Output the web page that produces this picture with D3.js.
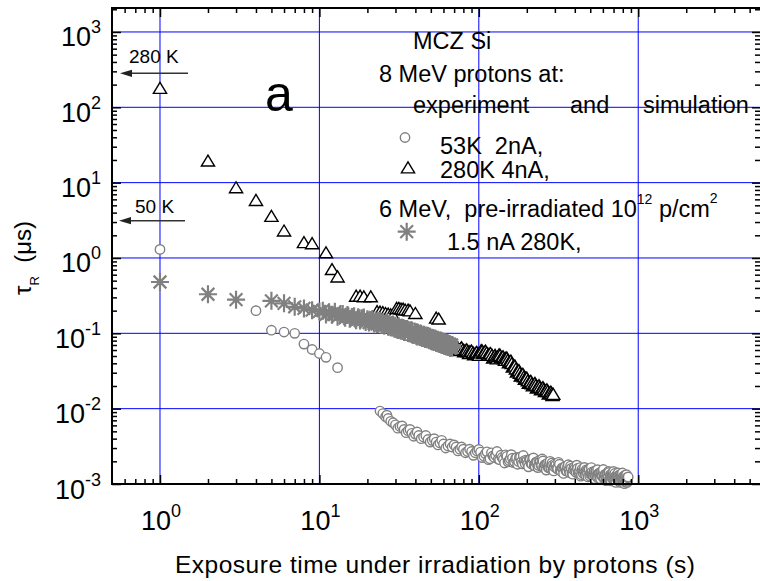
<!DOCTYPE html>
<html><head><meta charset="utf-8">
<script src="https://cdn.jsdelivr.net/npm/d3@7"></script>
<style>
body{margin:0;background:#fff}
text{font-family:"Liberation Sans",Arial,Helvetica,sans-serif;white-space:pre;fill:#000}
</style>
</head><body>
<svg id="chart" width="760" height="581"></svg>
<script>
// ---------------- data (time in s, tau_R in microseconds) ----------------
const circles53K = [
  [1,1.3],[4,0.2],[5,0.11],[6,0.104],[7,0.1],[8,0.072],[9,0.061],[10,0.054],[11,0.048],[13,0.035],
  [24,0.0093],[25,0.0086],[26,0.0078],[26.5,0.0082],[27,0.0074],[28,0.0068],[29,0.0065],[30,0.0061],
  [31,0.0055],[32,0.0058],[33,0.0059],[34,0.0053],[35,0.0048],[36,0.0051],[37,0.0053],[38,0.0047],
  [39,0.0043],[40,0.0046],[41,0.0049],[42,0.0044],[43.5,0.004],[45,0.0042],[46.5,0.0044],[48,0.0039],
  [49.5,0.0036],[51,0.0038],[52.5,0.004],[54,0.0036],[55.5,0.0033],[57,0.0035],[58.5,0.0038],
  [60,0.0034],[62,0.003],[64,0.0032],[66,0.0034],[68,0.0031],[70,0.0033],[72,0.0031],[74,0.00275],
  [76,0.0029],[78,0.0031],[80,0.0029],[82.5,0.0026],[85,0.0027],[87.5,0.0029],[90,0.0027],
  [92.5,0.0024],[95,0.0026],[97.5,0.00275],
  [100,0.00287],[105,0.00224],[110,0.00252],[115,0.0021],[120,0.00259],[125,0.00225],[130,0.0027],
  [135,0.0021],[140,0.00225],[145,0.0019],[150,0.00233],[155,0.00205],[160,0.00245],[165,0.00192],
  [170,0.00217],[175,0.00183],[180,0.00227],[185,0.00198],[190,0.00239],[195,0.00187],[200,0.00201],
  [205,0.00169],[210,0.0021],[215,0.00184],[220,0.00222],[225,0.00174],[230,0.00197],[235,0.00165],
  [240,0.00205],[245,0.00179],[250,0.00215],[255,0.00168],[260,0.00181],[265,0.00153],[270,0.00189],
  [275,0.00166],[280,0.002],[285,0.00157],[290,0.00177],[295,0.00149],[300,0.00185],[308,0.00161],
  [316,0.00194],[324,0.00152],[332,0.00163],[340,0.00138],[348,0.0017],[356,0.00149],[364,0.0018],
  [372,0.00141],[380,0.00161],[388,0.00135],[396,0.00168],[404,0.00147],[412,0.00178],[420,0.00139],
  [428,0.0015],[436,0.00127],[444,0.00157],[452,0.00138],[460,0.00166],[468,0.00131],[476,0.00148],
  [484,0.00124],[492,0.00156],[500,0.00136],[508,0.00165],[516,0.00129],[524,0.00139],[532,0.00117],
  [540,0.00146],[548,0.00129],[556,0.00155],[564,0.00122],[572,0.00139],[580,0.00117],[588,0.00146],
  [596,0.00128],[604,0.00156],[612,0.00121],[620,0.00131],[628,0.00111],[636,0.00138],[644,0.00122],
  [652,0.00147],[660,0.00116],[668,0.00132],[676,0.0011],[684,0.00138],[692,0.00121],[700,0.00147],
  [708,0.00115],[716,0.00125],[724,0.00105],[732,0.00131],[740,0.00116],[748,0.0014],[756,0.0011],
  [764,0.00126],[772,0.00105],[780,0.00132],[788,0.00115],[796,0.0014],[804,0.00109],[812,0.00119],
  [820,0.00101],[828,0.00125],[836,0.00111],[844,0.00133],[852,0.00105],[860,0.00121],[865,0.00124],
  [102.5,0.00265],[107.5,0.00235],[112.5,0.00267],[117.5,0.00216],[122.5,0.00236],[127.5,0.0024],
  [132.5,0.00214],[137.5,0.00241],[142.5,0.00213],[147.5,0.00244],[152.5,0.00197],[157.5,0.00217],
  [162.5,0.0022],[167.5,0.00197],[172.5,0.00223],[177.5,0.00199],[182.5,0.00228],[187.5,0.00185],
  [192.5,0.00203],[197.5,0.00208],[202.5,0.00186],[207.5,0.0021],[212.5,0.00187],[217.5,0.00215],
  [222.5,0.00175],[227.5,0.00192],[232.5,0.00196],[237.5,0.00176],[242.5,0.00198],[247.5,0.00176],
  [252.5,0.00202],[257.5,0.00164],[262.5,0.0018],[267.5,0.00184],[272.5,0.00165],[277.5,0.00187],
  [282.5,0.00165],[287.5,0.0019],[292.5,0.00154],[297.5,0.0017],
  [304,0.00179],[312,0.00159],[320,0.00183],[328,0.00148],[336,0.00162],[344,0.00166],[352,0.00149],
  [360,0.00169],[368,0.0015],[376,0.00173],[384,0.0014],[392,0.00155],[400,0.00159],[408,0.00142],
  [416,0.00161],[424,0.00143],[432,0.00165],[440,0.00133],[448,0.00147],[456,0.0015],[464,0.00136],
  [472,0.00154],[480,0.00137],[488,0.00157],[496,0.00128],[504,0.00141],[512,0.00144],[520,0.0013],
  [528,0.00147],[536,0.00131],[544,0.00151],[552,0.00123],[560,0.00136],[568,0.00139],[576,0.00126],
  [584,0.00142],[592,0.00127],[600,0.00146],[608,0.00119],[616,0.00132],[624,0.00135],[632,0.00121],
  [640,0.00138],[648,0.00123],[656,0.00142],[664,0.00115],[672,0.00128],[680,0.00131],[688,0.00118],
  [696,0.00134],[704,0.00119],[712,0.00138],[720,0.00113],[728,0.00124],[736,0.00128],[744,0.00114],
  [752,0.00129],[760,0.00116],[768,0.00133],[776,0.00109],[784,0.0012],[792,0.00124],[800,0.00112],
  [808,0.00126],[816,0.00113],[824,0.0013],[832,0.00106],[840,0.00117],[848,0.00121],[856,0.00109]
];
const triangles280K = [
  [1,175],[2,19],[3,8.4],[4,5.7],[5,3.5],[6,2.24],[8,1.57],[9,1.52],[11,1.15],[12,0.69],[13,0.55],
  [17,0.305],[18,0.305],[19,0.3],[21,0.3],
  [23,0.19],[24,0.188],[25,0.185],[26,0.18],[27,0.176],[28,0.172],[29,0.168],
  [30.5,0.21],[31.5,0.21],[32.5,0.206],[33.5,0.205],[34.5,0.2],[36,0.2],[37,0.195],[40,0.18],
  [54,0.156],[56,0.152],
  [67.8,0.066],[69,0.067],[70,0.064],[71,0.061],[72,0.063],[73,0.065],[74,0.062],[75.5,0.058],
  [77,0.061],[78,0.063],[79.5,0.059],[81,0.056],[82,0.058],[84,0.059],[85.5,0.056],[87,0.053],
  [88,0.056],[90,0.057],[92,0.054],[93.5,0.051],[95,0.053],[97,0.055],[99,0.052],[100.5,0.05],
  [102,0.054],[103.5,0.058],[105,0.057],[106.5,0.053],[108,0.055],[110,0.057],[112,0.054],[114,0.05],
  [116,0.052],[118.5,0.053],[121,0.05],[123,0.046],[125,0.048],[126.5,0.05],[128,0.047],[130,0.045],
  [132,0.048],[134,0.051],[136,0.05],[138,0.046],[140,0.047],[142,0.048],[144,0.045],[146,0.043],
  [148,0.046],[150,0.046],[152,0.043],[154.5,0.04],[157,0.041],[159,0.042],[161,0.039],[163.5,0.035],
  [166,0.036],[168.5,0.036],[171,0.033],[173.5,0.03],[176,0.031],[178.5,0.0315],[181,0.029],
  [183.5,0.0265],[186,0.027],[189,0.028],[192,0.026],[194.5,0.024],[197,0.025],[200,0.025],
  [203,0.023],[206,0.0213],[209,0.022],[212,0.0226],[215,0.021],[218.5,0.0197],[222,0.0205],
  [225,0.0212],[228,0.02],[231.5,0.0185],[235,0.019],[238.5,0.0198],[242,0.0188],[245.5,0.0175],
  [249,0.018],[252.5,0.0187],[256,0.0177],[260,0.0166],[264,0.017],[267.5,0.0175],[271,0.0166],
  [275,0.0154],[279,0.0158],[283,0.0163],[287,0.0155],[290,0.0147],[293,0.0152]
];
const stars15nA = [
  [1,0.48],[2,0.33],[3,0.28],[5,0.27],[6,0.25],[7,0.225],[8,0.214],[9,0.203],
  [10,0.195],[10.5,0.2],[11,0.178],[11.5,0.19],[12,0.176],[12.5,0.193],[13,0.166],[13.5,0.178],
  [14,0.181],[14.5,0.161],[15,0.175],[15.5,0.156],[16,0.165],[16.5,0.169],[17,0.149],[17.5,0.164],
  [18,0.148],[18.5,0.158],[19,0.162],[19.5,0.141],[20,0.154],[20.5,0.139],[21,0.15],[21.5,0.155],
  [22,0.135],[22.5,0.148],[23,0.133],[23.5,0.142],[24,0.146],[24.5,0.129],[25,0.14],[25.5,0.126],
  [26,0.134],[26.5,0.139],[27,0.122],[27.5,0.133],[28,0.12],[28.5,0.129],[29,0.131],[29.5,0.115],
  [30,0.126],[30.5,0.113],[31,0.111],[31.5,0.123],[32,0.118],[32.5,0.108],[33,0.119],[33.5,0.118],
  [34,0.104],[34.5,0.104],[35,0.114],[35.5,0.114],[36,0.101],[36.5,0.1],[37,0.107],[37.5,0.11],
  [38,0.109],[38.5,0.096],[39,0.095],[39.5,0.106],[40,0.103],[40.5,0.093],[41,0.091],[41.5,0.102],
  [42,0.098],[42.5,0.09],[43,0.099],[43.5,0.099],[44,0.087],[44.5,0.087],[45,0.095],[45.5,0.096],
  [46,0.084],[46.5,0.084],[47,0.09],[47.5,0.093],[48,0.092],[48.5,0.082],[49,0.081],[49.5,0.09],
  [50,0.087],[50.5,0.079],[51,0.078],[51.5,0.087],[52,0.084],[52.5,0.077],[53,0.085],[53.5,0.085],
  [54,0.075],[54.5,0.075],[55,0.081],[55.5,0.082],[56,0.073],[56.5,0.072],[57,0.078],[57.5,0.08],
  [58,0.079],[58.5,0.07],[59,0.07],[59.5,0.078],[60,0.075],[60.5,0.069],[61,0.068],[61.5,0.076],
  [62,0.073],[62.5,0.067],[63,0.074],[63.5,0.074],[64,0.066],[64.5,0.066],[65,0.071],[65.5,0.072],
  [66,0.064],[66.5,0.064],[67,0.068],[67.5,0.07],[68,0.065]
];
const xDomain = [0.5, 5890];
const yDomain = [1e-3, 2080];
const xMajorExp = [0, 1, 2, 3];
const yMajorExp = [-3, -2, -1, 0, 1, 2, 3];
const legendLines = ["MCZ Si", "8 MeV protons at:"];
const legendSeries = ["53K  2nA,", "280K 4nA,", "1.5 nA 280K,"];
const xTitle = "Exposure time under irradiation by protons (s)";

// ---------------- layout ----------------
const svg = d3.select("#chart");
const P = {l:112, r:761, t:8, b:484};
const x = d3.scaleLog().domain(xDomain).range([P.l, P.r]);
const y = d3.scaleLog().domain(yDomain).range([P.b, P.t]);
const GRAY = "#808080";

function minorTicks(dom, exps) {
  const out = [];
  for (let k = exps[0]-1; k <= exps[exps.length-1]+1; k++)
    for (let m = 2; m <= 9; m++) {
      const v = m*Math.pow(10,k);
      if (v > dom[0]*1.0001 && v < dom[1]*0.9999) out.push(v);
    }
  return out;
}
const xMajor = xMajorExp.map(e => Math.pow(10,e));
const yMajor = yMajorExp.map(e => Math.pow(10,e));
const xMinor = minorTicks(xDomain, xMajorExp);
const yMinor = minorTicks(yDomain, yMajorExp);

// grid
const grid = svg.append("g").attr("stroke","#0000ff").attr("stroke-width",1);
xMajor.forEach(v => grid.append("line").attr("x1",x(v)).attr("x2",x(v)).attr("y1",P.t).attr("y2",P.b));
yMajor.filter(v => v > yDomain[0]).forEach(v => grid.append("line").attr("x1",P.l).attr("x2",P.r).attr("y1",y(v)).attr("y2",y(v)));

// markers
const triPath = "M0,-6.6L6.6,4.4L-6.6,4.4Z";
function drawCircle(g, cx, cy) {
  g.append("circle").attr("cx",cx).attr("cy",cy).attr("r",4.7)
   .attr("fill","#fff").attr("stroke",GRAY).attr("stroke-width",1.4);
}
function drawTri(g, cx, cy) {
  g.append("path").attr("d",triPath).attr("transform",`translate(${cx},${cy})`)
   .attr("fill","#fff").attr("stroke","#000").attr("stroke-width",1.4);
}
function drawStar(g, cx, cy) {
  const r = 9, d = r*0.7071;
  g.append("path").attr("transform",`translate(${cx},${cy})`)
   .attr("d",`M0,${-r}V${r}M${-r},0H${r}M${-d},${-d}L${d},${d}M${-d},${d}L${d},${-d}`)
   .attr("stroke",GRAY).attr("stroke-width",2.2).attr("fill","none");
}
const byTime = (a,b) => a[0]-b[0];
const dataG = svg.append("g");
const cG = dataG.append("g"), tG = dataG.append("g"), sG = dataG.append("g");
circles53K.slice().sort(byTime).forEach(d => drawCircle(cG, x(d[0]), y(d[1])));
triangles280K.slice().sort(byTime).forEach(d => drawTri(tG, x(d[0]), y(d[1])));
stars15nA.slice().sort(byTime).forEach(d => drawStar(sG, x(d[0]), y(d[1])));

// axes (ticks inward on all four sides)
const ax = svg.append("g");
function addAxis(axisFn, scale, vals, size, transform) {
  ax.append("g").attr("transform",transform)
    .call(axisFn(scale).tickValues(vals).tickSize(size).tickFormat(""))
    .call(g => g.select(".domain").remove())
    .call(g => g.selectAll("line").attr("stroke","#000").attr("stroke-width",1.5));
}
addAxis(d3.axisBottom, x, xMinor, -5, `translate(0,${P.b})`);
addAxis(d3.axisBottom, x, xMajor, -9, `translate(0,${P.b})`);
addAxis(d3.axisTop, x, xMinor, -5, `translate(0,${P.t})`);
addAxis(d3.axisTop, x, xMajor, -9, `translate(0,${P.t})`);
addAxis(d3.axisLeft, y, yMinor, -5, `translate(${P.l},0)`);
addAxis(d3.axisLeft, y, yMajor, -9, `translate(${P.l},0)`);
addAxis(d3.axisRight, y, yMinor, -6, `translate(${P.r},0)`);
addAxis(d3.axisRight, y, yMajor, -9, `translate(${P.r},0)`);
svg.append("rect").attr("x",P.l).attr("y",P.t).attr("width",P.r-P.l).attr("height",P.b-P.t)
   .attr("fill","none").attr("stroke","#000").attr("stroke-width",2);

// tick labels
function powLabel(g, px, py, exp, anchor) {
  const t = g.append("text").attr("x",px).attr("y",py).attr("text-anchor",anchor).style("font-size","27px");
  t.append("tspan").text("10");
  t.append("tspan").attr("dy",-13).style("font-size","18px").text(String(exp));
}
const lab = svg.append("g");
xMajorExp.forEach(e => powLabel(lab, x(Math.pow(10,e))+1, 530, e, "middle"));
yMajorExp.forEach(e => powLabel(lab, 101, y(Math.pow(10,e))+14.5, e, "end"));

// axis titles
svg.append("text").attr("x",175).attr("y",573).style("font-size","24.5px")
   .attr("textLength",520).attr("lengthAdjust","spacing").text(xTitle);
const yt = svg.append("text").attr("transform","translate(31,258) rotate(-90)")
   .attr("text-anchor","middle").style("font-size","24px");
yt.append("tspan").text("τ");
yt.append("tspan").attr("dy",8).style("font-size","13px").text("R");
yt.append("tspan").attr("dy",-8).text("  (μs)");

// panel letter
svg.append("text").attr("x",265).attr("y",111).style("font-size","50px").text("a");

// arrows with temperature marks
function arrow(x1, x2, yy) {
  svg.append("line").attr("x1",x1).attr("x2",x2+8).attr("y1",yy).attr("y2",yy)
     .attr("stroke","#333").attr("stroke-width",1.6);
  svg.append("path").attr("d",`M${x2},${yy}L${x2+12},${yy-3.6}L${x2+12},${yy+3.6}Z`).attr("fill","#222");
}
svg.append("text").attr("x",129).attr("y",62.5).style("font-size","19px").text("280 K");
arrow(188, 120, 73.3);
svg.append("text").attr("x",135).attr("y",213).style("font-size","19px").text("50 K");
arrow(185, 119, 220.7);

// legend / annotation block
const LF = "23.5px";
svg.append("text").attr("x",413).attr("y",48.5).style("font-size",LF).text(legendLines[0]);
svg.append("text").attr("x",379).attr("y",82).style("font-size",LF).text(legendLines[1]);
svg.append("text").attr("x",413).attr("y",113).style("font-size",LF).text("experiment");
svg.append("text").attr("x",570).attr("y",113).style("font-size",LF).text("and");
svg.append("text").attr("x",643).attr("y",113).style("font-size",LF).text("simulation");
const legG = svg.append("g");
drawCircle(legG, 405, 137.5);
svg.append("text").attr("x",440).attr("y",154).style("font-size",LF).text(legendSeries[0]);
drawTri(legG, 408, 168.5);
svg.append("text").attr("x",440).attr("y",177.5).style("font-size",LF).text(legendSeries[1]);
const l6 = svg.append("text").attr("x",379).attr("y",217).style("font-size",LF);
l6.append("tspan").text("6 MeV,  pre-irradiated 10");
l6.append("tspan").attr("dy",-13).style("font-size","14px").text("12");
l6.append("tspan").attr("dy",13).text(" p/cm");
l6.append("tspan").attr("dy",-14).style("font-size","14px").text("2");
drawStar(legG, 406.7, 231.7);
svg.append("text").attr("x",447).attr("y",250).style("font-size",LF).text(legendSeries[2]);
</script>
</body></html>
